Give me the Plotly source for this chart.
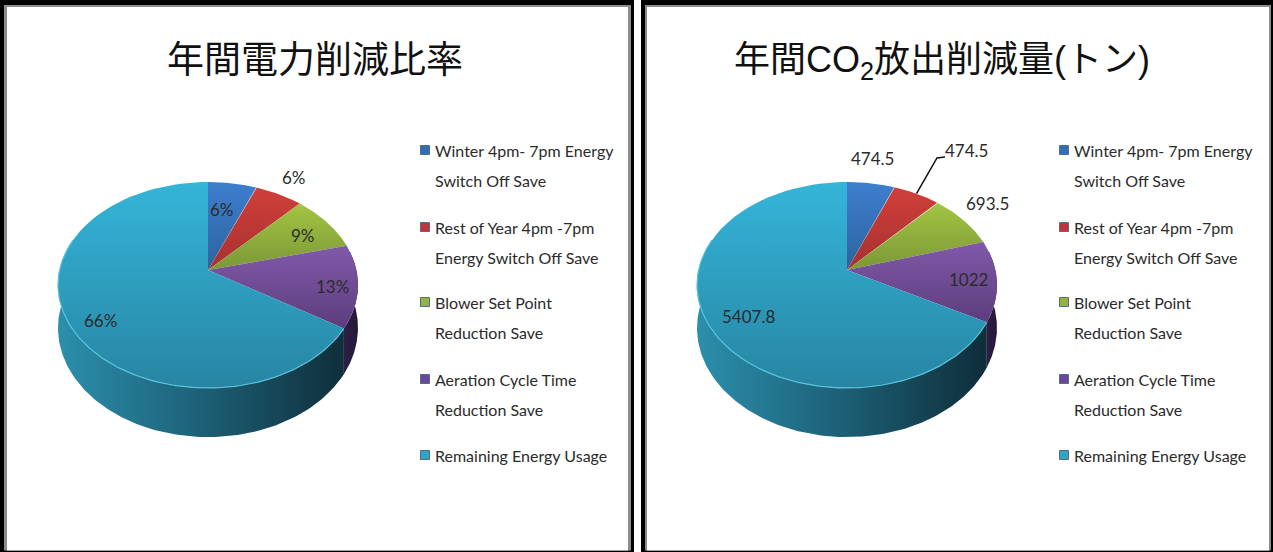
import numpy as np
import plotly.graph_objects as go

# ---- data ----
categories = ["Winter 4pm- 7pm Energy Switch Off Save",
              "Rest of Year 4pm -7pm Energy Switch Off Save",
              "Blower Set Point Reduction Save",
              "Aeration Cycle Time Reduction Save",
              "Remaining Energy Usage"]
legend_line1 = ["Winter 4pm- 7pm Energy", "Rest of Year 4pm -7pm", "Blower Set Point",
                "Aeration Cycle Time", "Remaining Energy Usage"]
legend_line2 = ["Switch Off Save", "Energy Switch Off Save", "Reduction Save", "Reduction Save", ""]
percent_values = [6, 6, 9, 13, 66]
percent_labels = ["6%", "6%", "9%", "13%", "66%"]
co2_values = [474.5, 474.5, 693.5, 1022, 5407.8]
co2_labels = ["474.5", "474.5", "693.5", "1022", "5407.8"]
title_left = "年間電力削減比率"
title_right = "年間CO<sub>2</sub>放出削減量(トン)"

# ---- styles and layout ----
top_colors = [("#3d7fce", "#2e62a0"), ("#d03f3a", "#a63130"), ("#a3c443", "#7b9837"),
              ("#8059aa", "#5c3d7c"), ("#35b5d9", "#2785a3")]
swatch_colors = ["#2f6fb8", "#c0353a", "#94b53c", "#6a479a", "#2fa6c8"]
wall_cyan = [[0, "#2b8fac"], [0.5, "#1d6077"], [1, "#0f2f3b"]]
wall_purple = [[0, "#2e1f45"], [1, "#241838"]]
TEXT = "#2b2b2b"
FONT = "Lato, sans-serif"
TITLE_FONT = "Liberation Sans, Noto Sans CJK JP, sans-serif"

RX, A, B = 148.4, 100.8, 0.1455
CY, DEPTH = 270, 42
centers = [208, 847]
legend_x = [425, 1064]
legend_y1 = [150, 227, 302, 379, 455]
legend_y2 = [180, 257, 332, 409, None]
label_offsets = [(14, -61), (86, -93), (95, -35), (124, 16), (-108, 50)]
label_offsets_r = [(25, -112), (119, -120), (140, -67), (121, 9), (-99, 46)]


def project(cx, frac):
    t = 2 * np.pi * np.asarray(frac)
    u, v = np.sin(t), np.cos(t)
    d = 1 + B * v
    return cx + RX * u / d, CY - A * v / d, v


def slice_xy(cx, f0, f1):
    x, y, _ = project(cx, np.linspace(f0, f1, 80))
    return np.r_[cx, x, cx], np.r_[CY, y, CY]


def wall_xy(cx, f0, f1):
    x, y, v = project(cx, np.linspace(f0, f1, 160))
    yb = y + DEPTH / (1 + B * v)
    return np.r_[x, x[::-1], x[0]], np.r_[y, yb[::-1], y[0]]


fig = go.Figure()


def add_pie(cx, values):
    vals = np.asarray(values, float)
    edges = np.r_[0, np.cumsum(vals) / vals.sum()]
    # side walls
    x, y = wall_xy(cx, edges[4], 0.80)
    fig.add_trace(go.Scatter(x=x, y=y, mode="lines", line=dict(width=0), fill="toself",
                             fillgradient=dict(type="horizontal", colorscale=wall_cyan,
                                               start=cx - 150, stop=cx + 135),
                             hoverinfo="skip", showlegend=False))
    x, y = wall_xy(cx, 0.22, edges[4])
    fig.add_trace(go.Scatter(x=x, y=y, mode="lines", line=dict(width=0), fill="toself",
                             fillgradient=dict(type="horizontal", colorscale=wall_purple),
                             hoverinfo="skip", showlegend=False))
    # top faces
    for i in range(5):
        x, y = slice_xy(cx, edges[i], edges[i + 1])
        c0, c1 = top_colors[i]
        fig.add_trace(go.Scatter(x=x, y=y, mode="lines", line=dict(width=0), fill="toself",
                                 name=categories[i],
                                 fillgradient=dict(type="vertical", colorscale=[[0, c0], [1, c1]],
                                                   start=float(np.min(y)), stop=float(np.max(y))),
                                 hoverinfo="skip", showlegend=False))
    # light rim along the front-left edge of the largest slice
    x, y, _ = project(cx, np.linspace(edges[4], 0.80, 120))
    fig.add_trace(go.Scatter(x=x, y=y, mode="lines", line=dict(width=1.2, color="#58c3dc"),
                             hoverinfo="skip", showlegend=False))
    return edges


edges_l = add_pie(centers[0], percent_values)
edges_r = add_pie(centers[1], co2_values)

annotations = []


def text(x, y, s, size=16, font=FONT, anchor="center"):
    annotations.append(dict(x=x, y=y, text=s, showarrow=False, xanchor=anchor, yanchor="middle",
                            xref="x", yref="y", font=dict(size=size, family=font, color=TEXT)))


for i in range(5):
    text(centers[0] + label_offsets[i][0], CY + label_offsets[i][1], percent_labels[i], 17)
    text(centers[1] + label_offsets_r[i][0], CY + label_offsets_r[i][1], co2_labels[i], 17)

# leader line of the second label on the right
mid = (edges_r[1] + edges_r[2]) / 2
lx, ly, _ = project(centers[1], mid)
ex, ey = centers[1] + label_offsets_r[1][0], CY + label_offsets_r[1][1]
fig.add_trace(go.Scatter(x=[lx, ex - 29, ex - 21], y=[ly, ey + 8, ey + 7], mode="lines",
                         line=dict(color="#111111", width=1.5), hoverinfo="skip", showlegend=False))

# legends
for lxp in legend_x:
    fig.add_trace(go.Scatter(x=[lxp] * 5, y=legend_y1, mode="markers",
                             marker=dict(symbol="square", size=9, color=swatch_colors,
                                         line=dict(width=1, color="#5a6a80")),
                             hoverinfo="skip", showlegend=False))
    for i in range(5):
        text(lxp + 8, legend_y1[i], legend_line1[i], anchor="left")
        if legend_line2[i]:
            text(lxp + 8, legend_y2[i], legend_line2[i], anchor="left")

# titles
annotations.append(dict(x=314.5, y=60, xref="x", yref="y", text=title_left, showarrow=False,
                        font=dict(size=37, family=TITLE_FONT, color="#111111")))
annotations.append(dict(x=942, y=62, xref="x", yref="y", text=title_right, showarrow=False,
                        font=dict(size=36, family=TITLE_FONT, color="#111111")))

# panel frames: black band, grey inner band, white interior
frame = [
    (0, 634, 0, 552, "#000000"), (4, 631, 5, 550.5, "#8c8c8c"), (7, 628, 7, 550.5, "#ffffff"),
    (641, 1273, 0, 552, "#000000"), (645, 1271, 5, 550.5, "#8c8c8c"), (647, 1269, 7, 550.5, "#ffffff"),
]
shapes = [dict(type="rect", xref="x", yref="y", x0=x0, x1=x1, y0=y0, y1=y1, fillcolor=c,
               line=dict(width=0), layer="below") for x0, x1, y0, y1, c in frame]

fig.update_layout(
    width=1273, height=552, margin=dict(l=0, r=0, t=0, b=0),
    paper_bgcolor="white", plot_bgcolor="white", showlegend=False,
    xaxis=dict(range=[0, 1273], visible=False, fixedrange=True),
    yaxis=dict(range=[552, 0], visible=False, fixedrange=True),
    annotations=annotations, shapes=shapes,
)
fig.write_html("out.html", config={"displayModeBar": False},
               post_script="document.body.style.margin='0';")
